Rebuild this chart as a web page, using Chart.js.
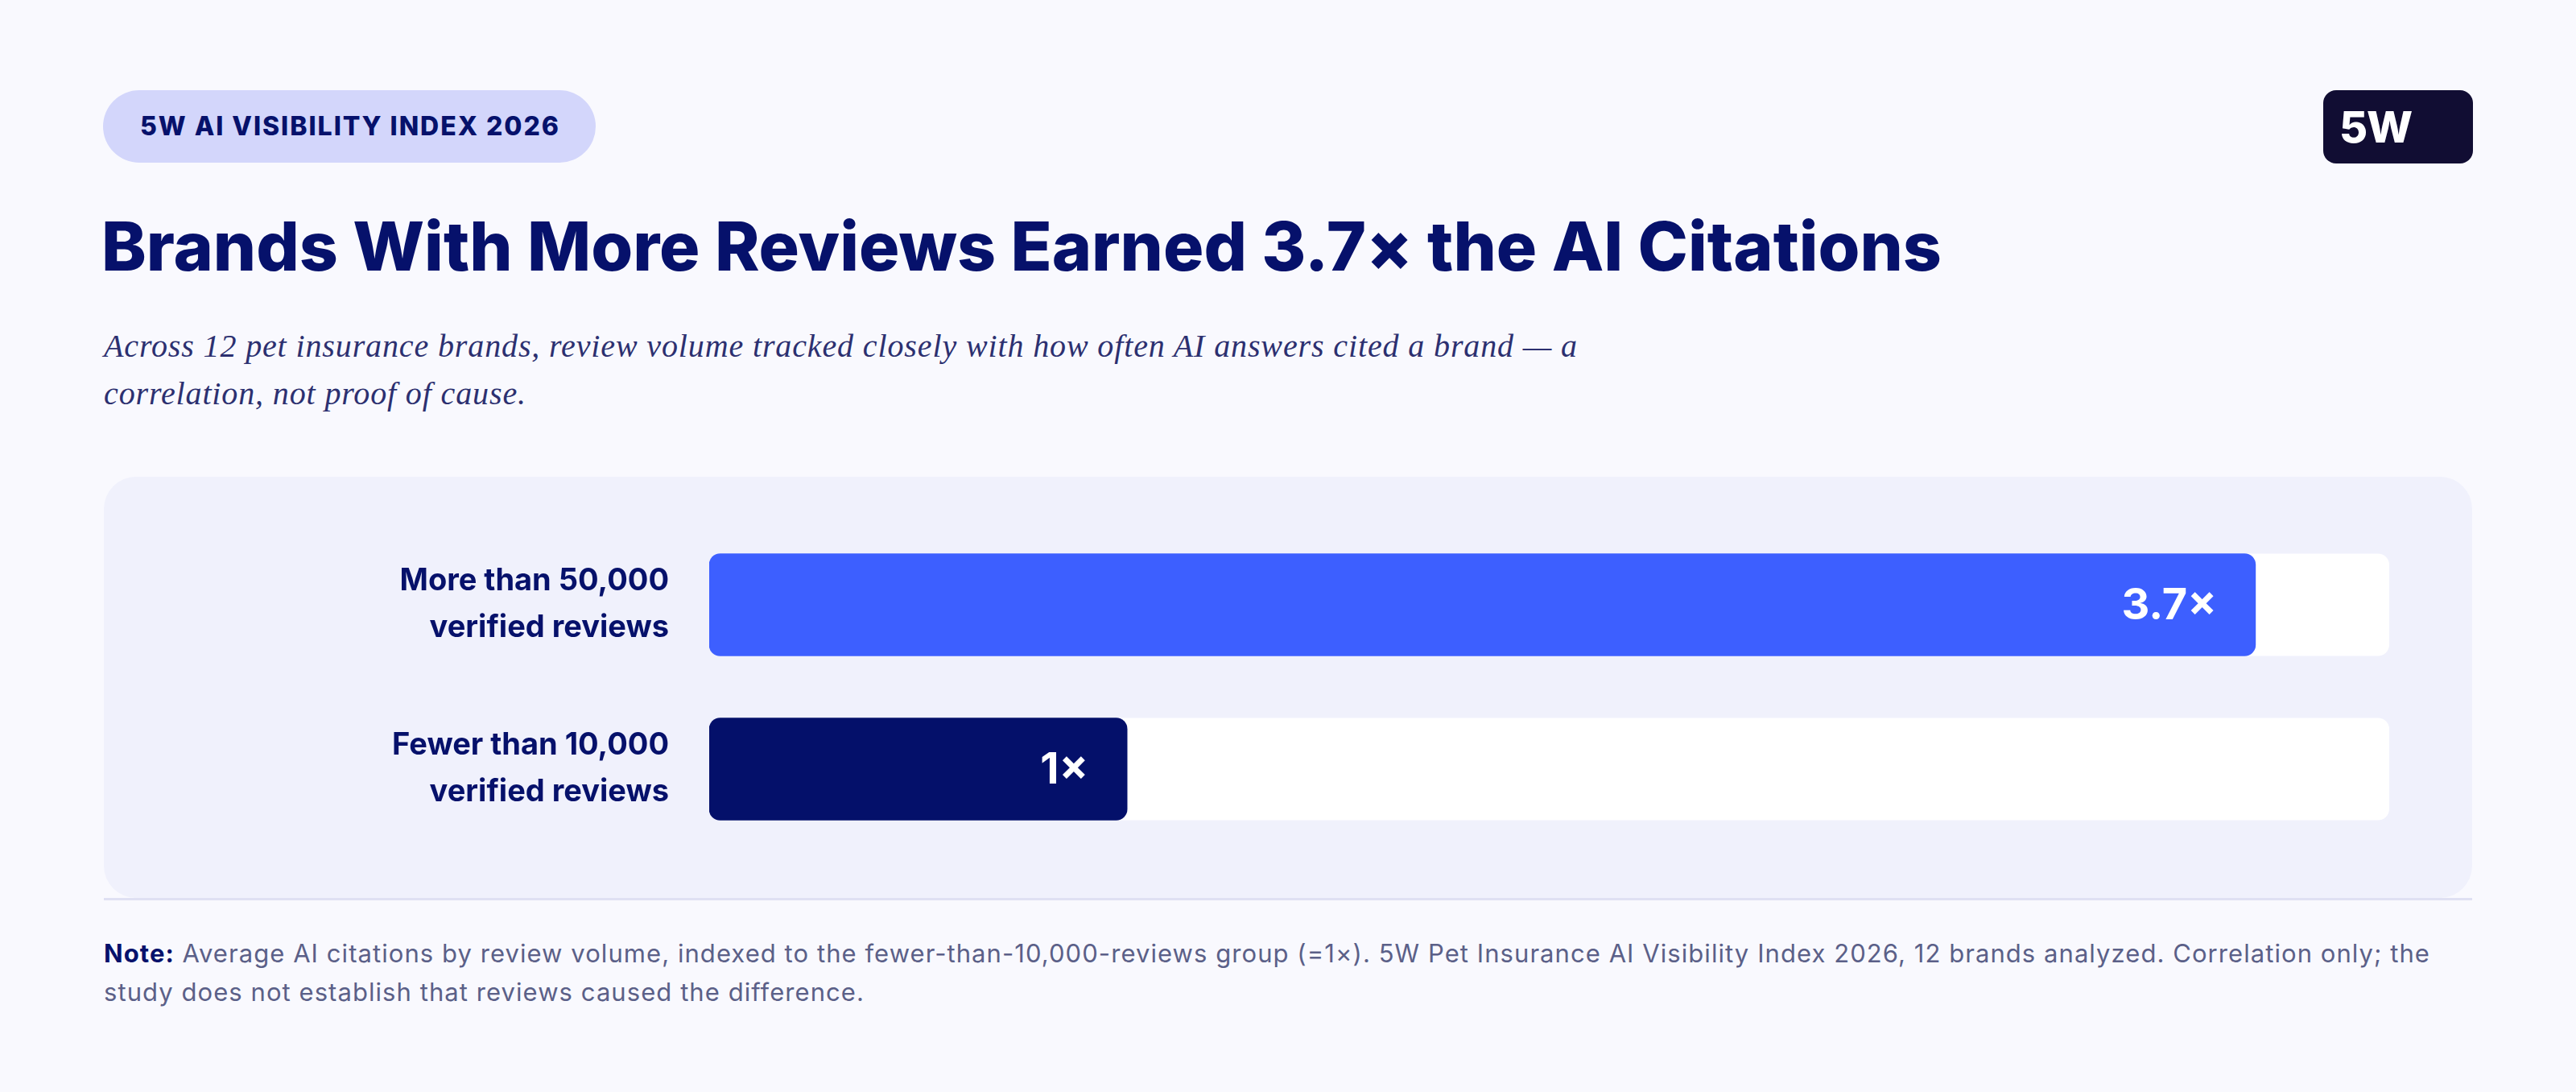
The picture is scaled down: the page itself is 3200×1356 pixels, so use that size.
<!DOCTYPE html>
<html>
<head>
<meta charset="utf-8">
<script src="https://cdn.jsdelivr.net/npm/chart.js@4.4.1/dist/chart.umd.min.js"></script>
<style>
  html, body { margin: 0; padding: 0; }
  body { width: 3200px; height: 1356px; background: #f9f9fe; position: relative; overflow: hidden; font-family: Inter, "Noto Sans", sans-serif; }
  .abs { position: absolute; white-space: nowrap; }
  #pill { left: 128px; top: 112px; width: 612px; height: 90px; border-radius: 45px; background: #d3d6fb; }
  #pillText { left: 174px; top: 112px; line-height: 90px; font-weight: 800; font-size: 32px; color: #06116b; }
  #logo { left: 2886px; top: 112px; width: 186px; height: 91px; border-radius: 16px; background: #110d33; }
  #logoText { left: 20px; top: 0; line-height: 91px; font-weight: 800; font-size: 54px; color: #ffffff; letter-spacing: -0.02em; }
  #title { left: 126px; top: 264px; font-size: 84px; line-height: 84px; font-weight: 800; color: #06116b; }
  #subtitle { left: 129px; top: 400px; font-family: "Liberation Serif", "DejaVu Serif", serif; font-style: italic; font-size: 40px; line-height: 59px; color: #2c3070; }
  #panel { left: 129px; top: 592px; width: 2942px; height: 523px; border-radius: 40px; background: #f0f1fc; overflow: hidden; }
  #chartWrap { position: absolute; left: 0; top: 0; width: 2942px; height: 522px; }
  #sep { left: 129px; top: 1115px; width: 2942px; height: 3px; background: #dfe0f3; }
  #note { left: 129px; top: 1160px; font-size: 31px; line-height: 48px; color: #5b6088; }
  #note b { color: #06116b; font-weight: 700; }
</style>
</head>
<body>
<div id="pill" class="abs"></div>
<div id="pillText" class="abs">5W AI VISIBILITY INDEX 2026</div>
<div id="logo" class="abs"><div id="logoText" class="abs">5W</div></div>
<div id="title" class="abs">Brands With More Reviews Earned 3.7× the AI Citations</div>
<div id="subtitle" class="abs">Across 12 pet insurance brands, review volume tracked closely with how often AI answers cited a brand — a<br>correlation, not proof of cause.</div>
<div id="panel" class="abs"><div id="chartWrap"><canvas id="c"></canvas></div></div>
<div id="sep" class="abs"></div>
<div id="note" class="abs"><b>Note:</b> Average AI citations by review volume, indexed to the fewer-than-10,000-reviews group (=1×). 5W Pet Insurance AI Visibility Index 2026, 12 brands analyzed. Correlation only; the<br>study does not establish that reviews caused the difference.</div>
<script>
// ---- data ----
const categories = [["More than 50,000", "verified reviews"], ["Fewer than 10,000", "verified reviews"]];
const values = [3.7, 1];
const valueLabels = ["3.7×", "1×"];
const barColors = ["#3d5fff", "#04106a"];
const axisMax = 4.02;

// ---- spacing helper: set letter-spacing so the (first) line width matches the reference ----
function fitSpacing(id, target, firstLine) {
  const el = document.getElementById(id);
  el.style.letterSpacing = '0px';
  const w = el.getBoundingClientRect().width;
  const n = (firstLine || el.textContent).length;
  el.style.letterSpacing = ((target - w) / n) + 'px';
}
fitSpacing('title', 2286);
fitSpacing('pillText', 522);
fitSpacing('subtitle', 1831, 'Across 12 pet insurance brands, review volume tracked closely with how often AI answers cited a brand — a');
fitSpacing('note', 2890, 'Note: Average AI citations by review volume, indexed to the fewer-than-10,000-reviews group (=1×). 5W Pet Insurance AI Visibility Index 2026, 12 brands analyzed. Correlation only; the');

const trackPlugin = {
  id: 'track',
  beforeDatasetsDraw(chart) {
    const ctx = chart.ctx, area = chart.chartArea;
    const meta = chart.getDatasetMeta(0);
    ctx.save();
    ctx.fillStyle = '#ffffff';
    meta.data.forEach(bar => {
      const h = bar.height;
      ctx.beginPath();
      ctx.roundRect(area.left, bar.y - h / 2, area.right - area.left, h, 14);
      ctx.fill();
    });
    ctx.restore();
  }
};

const valueLabelPlugin = {
  id: 'valueLabels',
  afterDatasetsDraw(chart) {
    const ctx = chart.ctx;
    const meta = chart.getDatasetMeta(0);
    ctx.save();
    ctx.fillStyle = '#ffffff';
    ctx.font = '700 54px Inter, "Noto Sans", sans-serif';
    ctx.textAlign = 'right';
    ctx.textBaseline = 'middle';
    meta.data.forEach((bar, i) => {
      ctx.fillText(valueLabels[i], bar.x - 48, bar.y + 2);
    });
    ctx.restore();
  }
};

new Chart(document.getElementById('c'), {
  type: 'bar',
  data: {
    labels: categories,
    datasets: [{
      data: values,
      backgroundColor: barColors,
      borderRadius: 14,
      borderSkipped: false,
      barThickness: 127
    }]
  },
  options: {
    indexAxis: 'y',
    responsive: true,
    maintainAspectRatio: false,
    animation: false,
    devicePixelRatio: 1,
    layout: { padding: { top: 57, bottom: 57, right: 103, left: 0 } },
    plugins: { legend: { display: false }, tooltip: { enabled: false } },
    scales: {
      x: { display: false, min: 0, max: axisMax },
      y: {
        grid: { display: false, drawTicks: false },
        border: { display: false },
        afterFit(scale) { scale.width = 752; scale.paddingTop = 0; scale.paddingBottom = 0; },
        ticks: {
          padding: 50,
          color: '#06116b',
          font: { family: 'Inter, "Noto Sans", sans-serif', size: 38, weight: '700', lineHeight: 1.53 }
        }
      }
    }
  },
  plugins: [trackPlugin, valueLabelPlugin]
});
</script>
</body>
</html>
